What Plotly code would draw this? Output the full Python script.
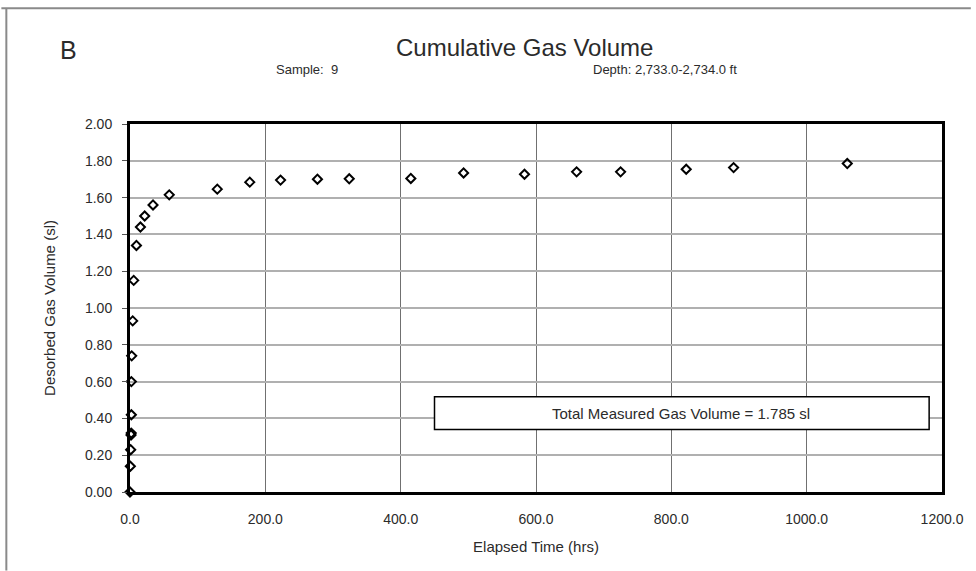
import plotly.graph_objects as go

# Desorption measurements: elapsed time (hrs) and cumulative desorbed gas volume (sl)
elapsed_hrs = [0.0, 0.5, 1.0, 1.5, 1.8, 2.0, 2.0, 2.5, 4.0, 5.5,
               9.5, 15.4, 21.7, 34.0, 58.0, 129.0, 177.0, 222.5, 277.0, 324.0,
               415.0, 493.0, 583.0, 660.0, 725.0, 822.0, 892.0, 1060.0]
gas_volume_sl = [0.00, 0.14, 0.23, 0.31, 0.32, 0.42, 0.60, 0.74, 0.93, 1.15,
                 1.34, 1.44, 1.50, 1.56, 1.615, 1.646, 1.684, 1.695, 1.700, 1.702,
                 1.704, 1.734, 1.727, 1.740, 1.740, 1.754, 1.763, 1.785]

x_ticks = [0, 200, 400, 600, 800, 1000, 1200]
y_ticks = [0.0, 0.2, 0.4, 0.6, 0.8, 1.0, 1.2, 1.4, 1.6, 1.8, 2.0]

total_label = "Total Measured Gas Volume = 1.785 sl"
sample_label = "Sample:  9"
depth_label = "Depth: 2,733.0-2,734.0 ft"

FONT = "Liberation Sans, Arial, sans-serif"
TXT = "#2b2b2b"

fig = go.Figure()
fig.add_trace(go.Scatter(
    x=elapsed_hrs, y=gas_volume_sl, mode="markers",
    marker=dict(symbol="diamond-open", size=7, color="black",
                line=dict(color="black", width=2)),
    cliponaxis=False, showlegend=False,
))

W, H = 976, 571
L, R, T, B = 129.5, 29, 124, 78.5
pw, ph = W - L - R, H - T - B


def px(xp):
    return (xp - L) / pw


def py(yp):
    return (H - B - yp) / ph


def label(text, x, y, size):
    return dict(text=text, xref="paper", yref="paper", x=px(x), y=py(y),
                xanchor="center", yanchor="middle", showarrow=False,
                font=dict(size=size, family=FONT, color=TXT))


fig.update_layout(
    width=W, height=H,
    margin=dict(l=L, r=R, t=T, b=B, pad=0),
    paper_bgcolor="white", plot_bgcolor="white",
    font=dict(family=FONT, color=TXT, size=14),
    xaxis=dict(
        range=[0, 1200], tickvals=x_ticks, tickformat=".1f",
        showgrid=True, gridcolor="#707070", gridwidth=1,
        zeroline=False, showline=True, linecolor="black", linewidth=3,
        mirror=True, ticks="", ticklabelstandoff=12,
        tickfont=dict(size=14, family=FONT, color=TXT),
        title=dict(text="Elapsed Time (hrs)", font=dict(size=15, family=FONT, color=TXT),
                   standoff=16),
    ),
    yaxis=dict(
        range=[0, 2.0], tickvals=y_ticks, tickformat=".2f",
        showgrid=True, gridcolor="#b0b0b0", gridwidth=1.5,
        zeroline=False, showline=True, linecolor="black", linewidth=3,
        mirror=True, ticks="outside", ticklen=5, tickcolor="#555", tickwidth=1,
        ticklabelstandoff=7,
        tickfont=dict(size=14, family=FONT, color=TXT),
        title=dict(text="Desorbed Gas Volume (sl)", font=dict(size=15, family=FONT, color=TXT),
                   standoff=26),
    ),
    annotations=[
        label("Cumulative Gas Volume", 527, 47, 24),
        label(sample_label, 308, 69, 13),
        label(depth_label, 668, 69, 13),
        label("B", 68, 50, 25),
        dict(text=total_label, xref="x", yref="y",
             x=815, y=0.4285, xanchor="center", yanchor="middle", showarrow=False,
             font=dict(size=15, family=FONT, color=TXT)),
    ],
    shapes=[
        # text box for the total volume
        dict(type="rect", xref="x", yref="y", x0=450, x1=1181, y0=0.339, y1=0.518,
             line=dict(color="black", width=1.5), fillcolor="white", layer="above"),
        # outer frame lines
        dict(type="line", xref="paper", yref="paper", x0=px(0), x1=px(W),
             y0=py(8), y1=py(8), line=dict(color="#8a8a8a", width=2)),
        dict(type="line", xref="paper", yref="paper", x0=px(5), x1=px(5),
             y0=py(8), y1=py(H), line=dict(color="#8a8a8a", width=2)),
    ],
)

fig.write_html("out.html")
